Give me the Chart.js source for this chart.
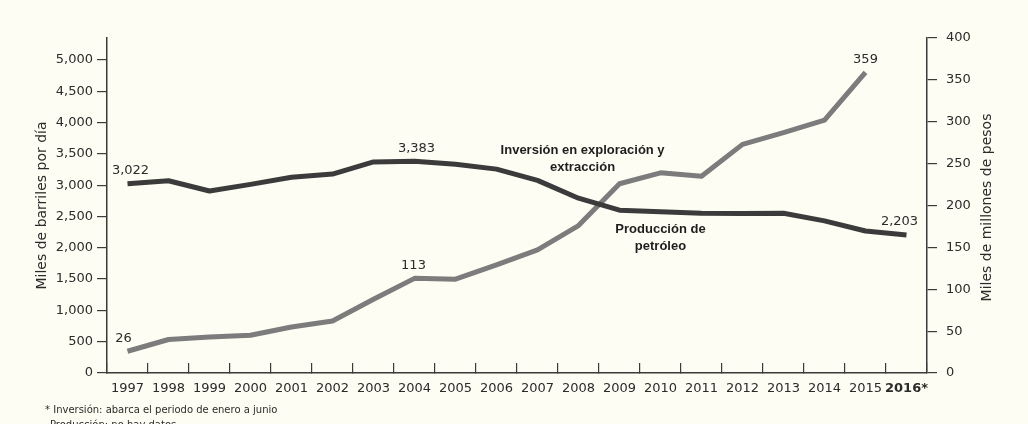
<!DOCTYPE html>
<html>
<head>
<meta charset="utf-8">
<script src="https://cdn.jsdelivr.net/npm/chart.js@4"></script>
<style>
  body { margin: 0; background: #fdfdf3; }
  #wrap { width: 1028px; height: 424px; position: relative; }
</style>
</head>
<body>
<div id="wrap"><canvas id="chart" width="1028" height="424"></canvas></div>
<script>
const years = ['1997', '1998', '1999', '2000', '2001', '2002', '2003', '2004', '2005', '2006',
    '2007', '2008', '2009', '2010', '2011', '2012', '2013', '2014', '2015', '2016*'];

// Producción de petróleo, miles de barriles por día
const produccion = [3022, 3070, 2906, 3012, 3127, 3177, 3371, 3383, 3333, 3256,
    3076, 2792, 2601, 2577, 2553, 2548, 2550, 2429, 2267, 2203];

// Inversión en exploración y extracción, miles de millones de pesos
const inversion = [26, 40, 43, 45, 55, 62, 88, 113, 112, 129,
    147, 176, 226, 239, 235, 273, 287, 302, 359, null];

const leftTicks = [0, 500, 1000, 1500, 2000, 2500, 3000, 3500, 4000, 4500, 5000];
const rightTicks = [0, 50, 100, 150, 200, 250, 300, 350, 400];

// which points get a value label (dataset, index, small horizontal nudge)
const pointLabels = [
    { ds: 0, i: 0, text: '3,022', dx: 3 },
    { ds: 0, i: 7, text: '3,383', dx: 2 },
    { ds: 0, i: 19, text: '2,203', dx: -7 },
    { ds: 1, i: 0, text: '26', dx: -4 },
    { ds: 1, i: 7, text: '113', dx: -1 },
    { ds: 1, i: 18, text: '359', dx: 0 }
];

const DARK = '#3b3b3b';
const LIGHT = '#7c7c7c';
const TEXT = '#2b2b2b';
const FONT = "'DejaVu Sans', sans-serif";

const extras = {
    id: 'extras',
    afterDatasetsDraw(chart) {
        const ctx = chart.ctx;
        const x = chart.scales.x;
        const y = chart.scales.y;
        ctx.save();
        ctx.fillStyle = TEXT;
        ctx.textAlign = 'center';
        ctx.textBaseline = 'middle';
        ctx.font = '13px ' + FONT;
        pointLabels.forEach(l => {
            const pt = chart.getDatasetMeta(l.ds).data[l.i];
            ctx.fillText(l.text, pt.x + l.dx, pt.y - 13);
        });

        // series names
        ctx.fillStyle = '#1e1e1e';
        ctx.font = "bold 13px 'Liberation Sans', Arial, sans-serif";
        const ax = x.getPixelForValue(11.1);
        const ay = y.getPixelForValue(3560);
        ctx.fillText('Inversión en exploración y', ax, ay);
        ctx.fillText('extracción', ax, ay + 17);
        const bx = x.getPixelForValue(13);
        const by = y.getPixelForValue(2285);
        ctx.fillText('Producción de', bx, by);
        ctx.fillText('petróleo', bx, by + 17);

        // axis titles, both reading bottom to top
        ctx.fillStyle = TEXT;
        ctx.font = '14px ' + FONT;
        const midY = (chart.chartArea.top + chart.chartArea.bottom) / 2;
        ctx.save();
        ctx.translate(42, midY);
        ctx.rotate(-Math.PI / 2);
        ctx.fillText('Miles de barriles por día', 0, 0);
        ctx.restore();
        ctx.save();
        ctx.translate(987, midY + 2);
        ctx.rotate(-Math.PI / 2);
        ctx.fillText('Miles de millones de pesos', 0, 0);
        ctx.restore();

        // footnote
        ctx.textAlign = 'left';
        ctx.font = '10px ' + FONT;
        ctx.fillText('* Inversión: abarca el periodo de enero a junio', 45, 410);
        ctx.fillText('Producción: no hay datos', 50, 425);
        ctx.restore();
    }
};

new Chart(document.getElementById('chart'), {
    type: 'line',
    data: {
        labels: years,
        datasets: [{
            label: 'Producción de petróleo',
            data: produccion,
            yAxisID: 'y',
            borderColor: DARK,
            borderWidth: 5,
            pointRadius: 0,
            tension: 0,
            borderJoinStyle: 'round'
        }, {
            label: 'Inversión en exploración y extracción',
            data: inversion,
            yAxisID: 'y1',
            borderColor: LIGHT,
            borderWidth: 5,
            pointRadius: 0,
            tension: 0,
            borderJoinStyle: 'round'
        }]
    },
    options: {
        responsive: false,
        animation: false,
        layout: { padding: { top: 38, left: 0, right: 0, bottom: 0 } },
        plugins: {
            legend: { display: false },
            tooltip: { enabled: false }
        },
        scales: {
            x: {
                offset: true,
                grid: { drawOnChartArea: false, offset: true, tickLength: -10, color: DARK, lineWidth: 1.2 },
                border: { color: DARK, width: 1.5 },
                ticks: {
                    autoSkip: false,
                    maxRotation: 0,
                    padding: 18,
                    color: TEXT,
                    font: c => ({ family: FONT, size: 13, weight: c.index === 19 ? 'bold' : 'normal' })
                },
                afterFit: s => { s.height = 51; }
            },
            y: {
                position: 'left',
                min: 0,
                max: 5350,
                afterBuildTicks: s => { s.ticks = leftTicks.map(v => ({ value: v })); },
                grid: { drawOnChartArea: false, tickLength: 10, color: DARK, lineWidth: 1.2 },
                border: { color: DARK, width: 1.5 },
                ticks: {
                    padding: 4,
                    color: TEXT,
                    font: { family: FONT, size: 13 },
                    callback: v => v.toLocaleString('en-US')
                },
                afterFit: s => { s.width = 107; }
            },
            y1: {
                position: 'right',
                min: 0,
                max: 400,
                afterBuildTicks: s => { s.ticks = rightTicks.map(v => ({ value: v })); },
                grid: { drawOnChartArea: false, tickLength: 10, color: DARK, lineWidth: 1.2 },
                border: { color: DARK, width: 1.5 },
                ticks: {
                    padding: 9,
                    color: TEXT,
                    font: { family: FONT, size: 13 }
                },
                afterFit: s => { s.width = 101; }
            }
        }
    },
    plugins: [extras]
});
</script>
</body>
</html>
